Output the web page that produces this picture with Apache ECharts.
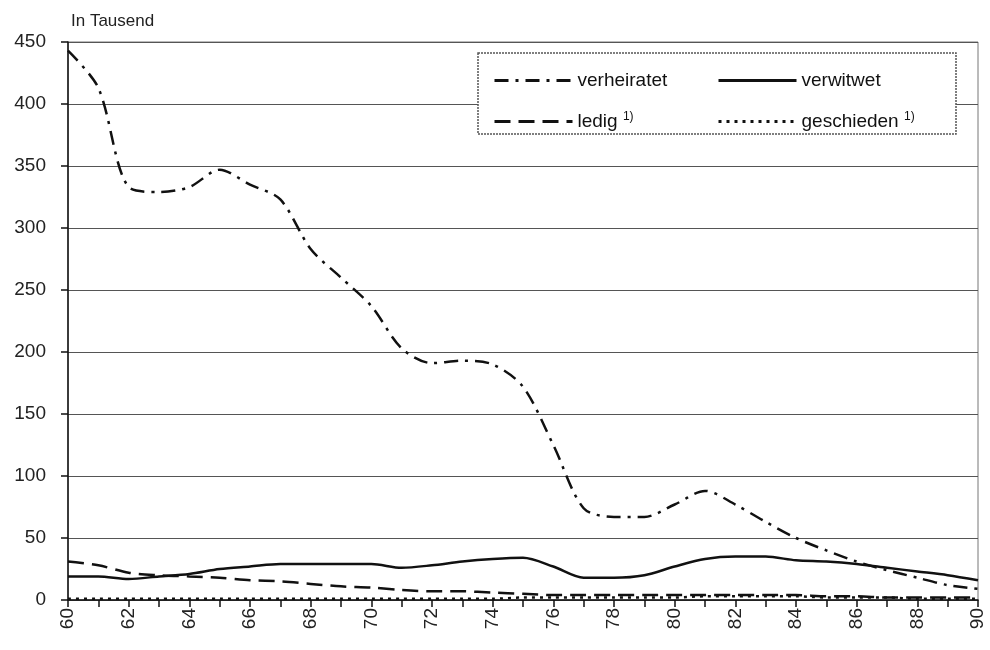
<!DOCTYPE html>
<html>
<head>
<meta charset="utf-8">
<script src="https://cdn.jsdelivr.net/npm/echarts@6/dist/echarts.min.js"></script>
<style>
  html, body { margin: 0; padding: 0; background: #fff; }
  #chart { width: 990px; height: 650px; }
</style>
</head>
<body>
<div id="chart"></div>
<script>
// Jahre 1960-1990
var years = [];
for (var y = 60; y <= 90; y++) years.push(String(y));

var verheiratet = [443, 413, 333, 329, 333, 347, 335, 323, 283, 260, 237, 203, 191, 193, 190, 172,
                   125, 74, 67, 67, 77, 88, 77, 63, 50, 40, 31, 24, 18, 12, 9];
var verwitwet = [19, 19, 17, 19, 21, 25, 27, 29, 29, 29, 29, 26, 28, 31, 33, 34,
                 27, 18, 18, 20, 27, 33, 35, 35, 32, 31, 29, 26, 23, 20, 16];
var ledig = [31, 28, 22, 20, 19, 18, 16, 15, 13, 11, 10, 8, 7, 7, 6, 5,
             4, 4, 4, 4, 4, 4, 4, 4, 4, 3, 3, 2, 2, 2, 2];
var geschieden = [1, 1, 1, 1, 1, 1, 1, 1, 1, 1, 1, 1, 1, 1, 1, 2,
                  2, 2, 2, 2, 2, 3, 3, 3, 3, 2, 2, 2, 1, 1, 1];

var yTicks = [0, 50, 100, 150, 200, 250, 300, 350, 400, 450];

var font = 'Liberation Sans, Arial, sans-serif';
var ink = '#111';

var myChart = echarts.init(document.getElementById('chart'));

function makeLine(name, data, dash) {
    return {
        name: name,
        type: 'line',
        data: data,
        smooth: 0.3,
        symbol: 'none',
        lineStyle: { color: ink, width: 2.5, type: dash },
        itemStyle: { color: ink }
    };
}

function legendAt(name, left, top) {
    return {
        data: [name],
        left: left,
        top: top,
        z: 10,
        itemWidth: 78,
        itemHeight: 12,
        itemGap: 4,
        itemStyle: { opacity: 0 },
        lineStyle: { width: 3 },
        textStyle: {
            fontFamily: font, fontSize: 19, color: ink,
            rich: { sup: { fontSize: 12, verticalAlign: 'top', padding: [0, 0, 9, 0], fontFamily: font, color: ink } }
        },
        formatter: function (n) {
            if (n === 'ledig') return 'ledig {sup|1)}';
            if (n === 'geschieden') return 'geschieden {sup|1)}';
            return n;
        },
        selectedMode: false
    };
}

var option = {
    backgroundColor: '#fff',
    animation: false,
    title: {
        text: 'In Tausend',
        left: 66,
        top: 8,
        textStyle: { fontFamily: font, fontSize: 17, fontWeight: 'normal', color: '#222' }
    },
    graphic: [{
        type: 'rect',
        shape: { x: 478, y: 53, width: 478, height: 81 },
        style: { fill: '#fff', stroke: '#555', lineWidth: 1.5, lineDash: [2, 1] },
        z: 3
    }],
    legend: [
        legendAt('verheiratet', 488, 66),
        legendAt('verwitwet', 712, 66),
        legendAt('ledig', 488, 106),
        legendAt('geschieden', 712, 106)
    ],
    grid: {
        left: 68, right: 12, top: 42, bottom: 50,
        show: true,
        borderColor: '#777',
        borderWidth: 1
    },
    xAxis: {
        type: 'category',
        data: years,
        boundaryGap: false,
        axisLine: { lineStyle: { color: ink, width: 1.5 } },
        axisTick: { interval: 0, length: 7, lineStyle: { color: ink, width: 1.5 } },
        axisLabel: {
            interval: 1, rotate: 90, fontFamily: font, fontSize: 19, color: '#222', margin: 8
        },
        splitLine: { show: false }
    },
    yAxis: {
        type: 'value',
        min: yTicks[0],
        max: yTicks[yTicks.length - 1],
        interval: 50,
        axisLine: { show: true, lineStyle: { color: ink, width: 1.5 } },
        axisTick: { show: true, length: 7, lineStyle: { color: ink, width: 1.5 } },
        axisLabel: { fontFamily: font, fontSize: 19, color: '#222', margin: 22 },
        splitLine: { show: true, lineStyle: { color: '#555', width: 1 } }
    },
    series: [
        makeLine('verheiratet', verheiratet, [14, 7, 3, 7]),
        makeLine('verwitwet', verwitwet, 'solid'),
        makeLine('ledig', ledig, [16, 8]),
        makeLine('geschieden', geschieden, [3, 5])
    ]
};

myChart.setOption(option);
</script>
</body>
</html>
